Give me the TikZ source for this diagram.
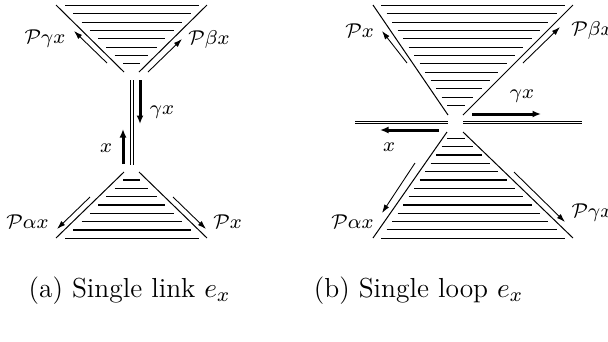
\documentclass[tikz,border=0pt]{standalone}
\usetikzlibrary{arrows.meta}
\begin{document}
\begin{tikzpicture}[x=0.4pt,y=-0.4pt,
  edge/.style={line width=0.4pt},
  hatch/.style={line width=0.45pt},
  thinarr/.style={line width=0.35pt,-{Latex[length=3.4pt,width=2.2pt]}},
  thickarr/.style={line width=1.2pt,-{Latex[length=3.4pt,width=2.8pt]}},
  lbl/.style={font=\footnotesize,inner sep=0pt},
  captxt/.style={font=\fontsize{11}{13}\selectfont,inner sep=0pt}]
\useasboundingbox (0,0) rectangle (608,341);

% ================= (a) single link =================
% top triangle
\draw[edge] (56,5) -- (124,72);
\draw[edge] (207,5) -- (139,72);
\foreach \i in {0,...,7}{
  \draw[hatch] ({65+\i*58/7},{5.5+\i*8.33}) -- ({199-\i*59/7},{5.5+\i*8.33});
}
% bottom triangle
\draw[edge] (124,172) -- (56,238);
\draw[edge] (139,172) -- (207,238);
\foreach \i in {0,...,7}{
  \draw[hatch] ({123-\i*58/7},{180+\i*8.33}) -- ({140+\i*59/7},{180+\i*8.33});
}
% link (double line)
\coordinate (la1) at (130.6,80); \coordinate (la2) at (130.6,165);
\coordinate (lb1) at (133,80);   \coordinate (lb2) at (133,165);
\draw[edge] (la1) -- (la2);
\draw[edge] (lb1) -- (lb2);
% arrows
\coordinate (a1s) at (107,63);  \coordinate (a1e) at (74,31);
\coordinate (a2s) at (148,72);  \coordinate (a2e) at (182,39);
\coordinate (a3s) at (90,197);  \coordinate (a3e) at (57,229);
\coordinate (a4s) at (173,197); \coordinate (a4e) at (206,229);
\draw[thinarr] (a1s) -- (a1e);
\draw[thinarr] (a2s) -- (a2e);
\draw[thinarr] (a3s) -- (a3e);
\draw[thinarr] (a4s) -- (a4e);
\coordinate (gs) at (140,80);  \coordinate (ge) at (140,124);
\coordinate (xs) at (123,164); \coordinate (xe) at (123,129);
\draw[thickarr] (gs) -- (ge);
\draw[thickarr] (xs) -- (xe);
% labels
\node[lbl] (la) at (45,39) {$\mathcal{P}\gamma x$};
\node[lbl] (lb) at (209,39) {$\mathcal{P}\beta x$};
\node[lbl] (lc) at (162,112) {$\gamma x$};
\node[lbl] (ld) at (106,148) {$x$};
\node[lbl] (le) at (27.5,222) {$\mathcal{P}\alpha x$};
\node[lbl] (lf) at (227.5,222) {$\mathcal{P}x$};
\node[captxt,anchor=base] (capa) at (129.5,297) {(a) Single link $e_x$};

% ================= (b) single loop =================
% top triangle
\draw[edge] (373,5) -- (448,115);
\draw[edge] (573,5) -- (463,115);
\foreach \i in {0,...,12}{
  \draw[hatch] ({381+\i*66/12},{5.5+\i*8.33}) -- ({565-\i*100/12},{5.5+\i*8.33});
}
% bottom triangle
\draw[edge] (447,132) -- (373,238);
\draw[edge] (463,132) -- (573,238);
\foreach \i in {0,...,12}{
  \draw[hatch] ({447-\i*66/12},{138.3+\i*8.33}) -- ({465+\i*100/12},{138.3+\i*8.33});
}
% loop line (double)
\coordinate (h1a) at (355,121.6); \coordinate (h1b) at (448,121.6);
\coordinate (h2a) at (355,123);   \coordinate (h2b) at (448,123);
\coordinate (h3a) at (463,121.6); \coordinate (h3b) at (582,121.6);
\coordinate (h4a) at (463,123);   \coordinate (h4b) at (582,123);
\draw[edge] (h1a) -- (h1b);
\draw[edge] (h2a) -- (h2b);
\draw[edge] (h3a) -- (h3b);
\draw[edge] (h4a) -- (h4b);
% arrows
\coordinate (b1s) at (407,63);  \coordinate (b1e) at (382,31);
\coordinate (b2s) at (523,63);  \coordinate (b2e) at (560,27);
\coordinate (b3s) at (415,163); \coordinate (b3e) at (382,213);
\coordinate (b4s) at (514,172); \coordinate (b4e) at (565,222);
\draw[thinarr] (b1s) -- (b1e);
\draw[thinarr] (b2s) -- (b2e);
\draw[thinarr] (b3s) -- (b3e);
\draw[thinarr] (b4s) -- (b4e);
\coordinate (bgs) at (472,114); \coordinate (bge) at (541,114);
\coordinate (bxs) at (439,130); \coordinate (bxe) at (380,130);
\draw[thickarr] (bgs) -- (bge);
\draw[thickarr] (bxs) -- (bxe);
% labels
\node[lbl] (lg) at (359.5,31) {$\mathcal{P}x$};
\node[lbl] (lh) at (592,30) {$\mathcal{P}\beta x$};
\node[lbl] (li) at (522,96) {$\gamma x$};
\node[lbl] (lj) at (389,147) {$x$};
\node[lbl] (lk) at (352.5,222) {$\mathcal{P}\alpha x$};
\node[lbl] (ll) at (592,213) {$\mathcal{P}\gamma x$};
\node[captxt,anchor=base] (capb) at (418.5,297) {(b) Single loop $e_x$};
\end{tikzpicture}
\end{document}
